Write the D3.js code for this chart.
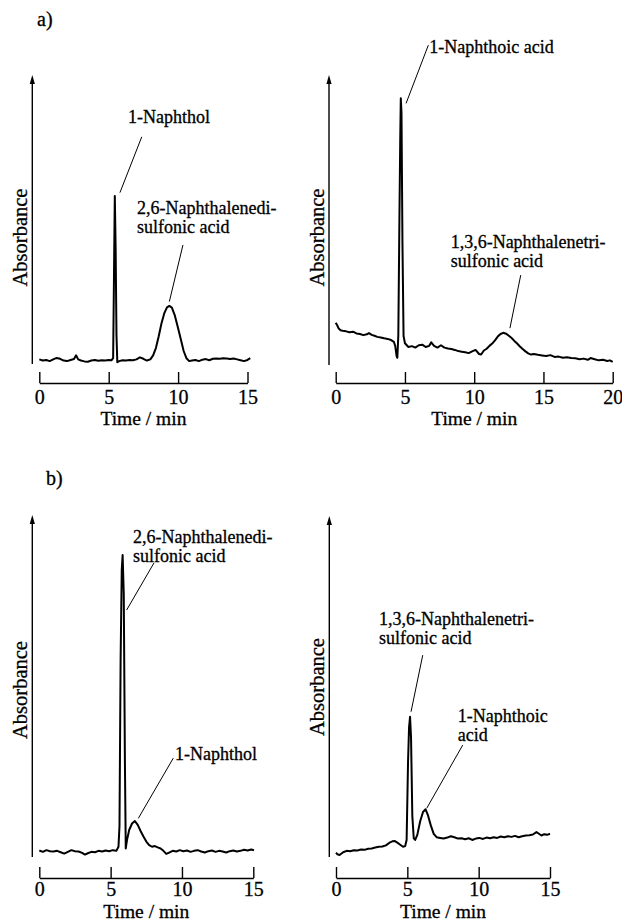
<!DOCTYPE html>
<html>
<head>
<meta charset="utf-8">
<script src="https://cdn.jsdelivr.net/npm/d3@7"></script>
<style>
  body { margin: 0; background: #fff; }
  svg { display: block; font-family: "Liberation Serif", "Times New Roman", serif; }
  text { stroke: #000; stroke-width: 0.3px; fill: #000; }
</style>
</head>
<body>
<div id="chart"></div>
<script>
// Chromatograms, [time (min), absorbance (arb.)].
var traceA1 = [[0,.016],[.25,.012],[.5,.014],[.75,.010],[1,.016],[1.25,.021],[1.5,.018],[1.75,.012],[2,.010],[2.25,.014],[2.5,.017],[2.65,.030],[2.8,.016],[3,.012],[3.25,.009],[3.5,.008],[3.75,.012],[4,.014],[4.25,.011],[4.5,.013],[4.75,.012],[5,.014],[5.2,.013],[5.32,.02],[5.38,.30],[5.44,.581],[5.5,.40],[5.56,.10],[5.62,.006],[5.75,.010],[6,.013],[6.25,.012],[6.5,.014],[6.75,.013],[7,.016],[7.25,.023],[7.5,.018],[7.75,.012],[8,.016],[8.2,.030],[8.4,.055],[8.6,.095],[8.8,.140],[9,.175],[9.2,.196],[9.37,.201],[9.55,.195],[9.75,.170],[10,.124],[10.2,.085],[10.4,.045],[10.6,.020],[10.8,.010],[11,.012],[11.25,.014],[11.5,.010],[11.75,.015],[12,.017],[12.25,.013],[12.5,.018],[12.75,.019],[13,.018],[13.25,.020],[13.5,.019],[13.75,.017],[14,.019],[14.25,.016],[14.5,.013],[14.75,.010],[15,.014],[15.2,.020]];

var traceA2 = [[0,.146],[.1,.138],[.2,.127],[.35,.120],[.5,.118],[.75,.116],[1,.113],[1.25,.115],[1.5,.109],[1.75,.107],[2,.103],[2.25,.106],[2.4,.110],[2.6,.104],[2.8,.101],[3,.097],[3.25,.095],[3.5,.092],[3.75,.090],[4,.086],[4.2,.080],[4.3,.065],[4.4,.030],[4.45,.025],[4.52,.10],[4.6,.50],[4.66,.78],[4.7,.92],[4.75,.87],[4.82,.42],[4.9,.10],[5,.075],[5.25,.062],[5.5,.065],[5.75,.060],[6,.068],[6.25,.070],[6.5,.062],[6.75,.066],[6.9,.078],[7.1,.066],[7.35,.060],[7.6,.068],[7.85,.060],[8.1,.057],[8.35,.055],[8.6,.052],[8.85,.048],[9.1,.046],[9.35,.044],[9.6,.041],[9.85,.047],[10.1,.052],[10.35,.038],[10.5,.036],[10.7,.050],[10.9,.056],[11.1,.066],[11.3,.074],[11.5,.085],[11.7,.098],[11.9,.107],[12.1,.111],[12.3,.108],[12.5,.101],[12.7,.093],[12.9,.083],[13.1,.074],[13.3,.064],[13.5,.055],[13.7,.047],[13.9,.040],[14.1,.036],[14.3,.038],[14.6,.035],[14.9,.033],[15.2,.031],[15.5,.034],[15.8,.028],[16.1,.029],[16.4,.025],[16.7,.027],[17,.024],[17.3,.023],[17.6,.020],[17.9,.022],[18.2,.018],[18.4,.024],[18.7,.020],[19,.016],[19.3,.018],[19.6,.014],[19.8,.016],[20,.011]];

var traceB1 = [[0,.019],[.25,.015],[.5,.020],[.75,.017],[1,.016],[1.25,.018],[1.5,.014],[1.75,.010],[2,.015],[2.25,.020],[2.5,.017],[2.75,.016],[3,.012],[3.2,.007],[3.4,.011],[3.65,.015],[3.9,.014],[4.15,.018],[4.4,.016],[4.65,.019],[4.9,.017],[5.15,.020],[5.4,.018],[5.55,.030],[5.62,.09],[5.7,.58],[5.78,.84],[5.84,.883],[5.92,.77],[6,.28],[6.06,.025],[6.15,.050],[6.3,.079],[6.5,.098],[6.7,.105],[6.9,.094],[7.1,.076],[7.3,.060],[7.5,.045],[7.7,.035],[7.9,.030],[8.1,.032],[8.3,.028],[8.5,.025],[8.7,.018],[8.9,.009],[9.1,.013],[9.35,.018],[9.6,.016],[9.85,.020],[10.1,.017],[10.35,.019],[10.6,.015],[10.85,.018],[11.1,.020],[11.35,.016],[11.6,.013],[11.85,.017],[12.1,.019],[12.35,.015],[12.6,.018],[12.85,.016],[13.1,.013],[13.35,.017],[13.6,.019],[13.85,.016],[14.1,.018],[14.35,.021],[14.6,.019],[14.85,.022],[15.05,.020]];

var traceB2 = [[0,.013],[.1,.008],[.25,.006],[.5,.014],[.75,.018],[1,.017],[1.25,.020],[1.5,.019],[1.75,.022],[2,.021],[2.25,.024],[2.5,.025],[2.75,.028],[3,.030],[3.25,.031],[3.5,.034],[3.75,.042],[3.95,.046],[4.1,.047],[4.3,.042],[4.5,.036],[4.7,.030],[4.85,.032],[4.95,.05],[5.05,.28],[5.12,.38],[5.19,.411],[5.26,.35],[5.35,.12],[5.45,.055],[5.55,.050],[5.7,.065],[5.9,.105],[6.1,.132],[6.28,.140],[6.45,.122],[6.65,.092],[6.85,.068],[7.05,.058],[7.3,.056],[7.55,.054],[7.8,.057],[8.05,.061],[8.3,.058],[8.55,.054],[8.8,.055],[9.05,.052],[9.3,.055],[9.55,.050],[9.8,.054],[10.05,.056],[10.3,.053],[10.55,.057],[10.8,.055],[11.05,.058],[11.3,.056],[11.55,.060],[11.8,.058],[12.05,.061],[12.3,.059],[12.55,.062],[12.8,.058],[13.05,.061],[13.3,.063],[13.55,.064],[13.8,.066],[14.05,.073],[14.2,.069],[14.4,.063],[14.6,.067],[14.8,.065],[15,.068]];

// tick labels
var ticks15 = [0, 5, 10, 15];
var ticks20 = [0, 5, 10, 15, 20];

// peak names
var nameNaphthol = ["1-Naphthol"];
var nameNaphthoic = ["1-Naphthoic acid"];
var nameNaphthoic2 = ["1-Naphthoic", "acid"];
var nameDisulfonic = ["2,6-Naphthalenedi-", "sulfonic acid"];
var nameTrisulfonic = ["1,3,6-Naphthalenetri-", "sulfonic acid"];

var W = 622, H = 922;
var fontSize = 18;

// panel layout (pixels) and label anchors (data units)
var panels = [
  { trace: traceA1, domain: [0, 15], ticks: ticks15, x0: 39.3, x1: 247.5, axisX: 32.3, yTop: 75, yBot: 364, xAxisY: 383, absY: 237.5, tickPad: 7, titleDy: 42,
    labels: [
      { lines: nameNaphthol, at: [6.39, .834], from: [7.38, .786], to: [5.81, .593] },
      { lines: nameDisulfonic, at: [7.04, .519], from: [10.35, .412], to: [9.37, .216] }
    ] },
  { trace: traceA2, domain: [0, 20], ticks: ticks20, x0: 335.7, x1: 612.7, axisX: 329, yTop: 75, yBot: 365, xAxisY: 383, absY: 237.5, tickPad: 7, titleDy: 42,
    labels: [
      { lines: nameNaphthoic, at: [6.76, 1.075], from: [6.69, 1.103], to: [5.08, .902] },
      { lines: nameTrisulfonic, at: [8.30, .403], from: [13.36, .310], to: [12.58, .127] }
    ] },
  { trace: traceB1, domain: [0, 15], ticks: ticks15, x0: 39.3, x1: 253.3, axisX: 32.3, yTop: 515, yBot: 857, xAxisY: 878, absY: 690, tickPad: 4, titleDy: 39.5,
    labels: [
      { lines: nameDisulfonic, at: [6.57, .918], from: [8.04, .860], to: [6.12, .722] },
      { lines: nameNaphthol, at: [9.51, .284], from: [9.39, .289], to: [6.94, .113] }
    ] },
  { trace: traceB2, domain: [0, 15], ticks: ticks15, x0: 336, x1: 550, axisX: 329.3, yTop: 516, yBot: 857, xAxisY: 878, absY: 687, tickPad: 4, titleDy: 39.5,
    labels: [
      { lines: nameTrisulfonic, at: [3.01, .680], from: [6.08, .592], to: [5.26, .426] },
      { lines: nameNaphthoic2, at: [8.53, .397], from: [8.88, .328], to: [6.36, .143] }
    ] }
];

var svg = d3.select("#chart").append("svg")
    .attr("width", W)
    .attr("height", H);

svg.append("rect").attr("width", W).attr("height", H).attr("fill", "#fff");

// panel letters
svg.append("text").attr("x", 37).attr("y", 26).attr("font-size", 20).text("a)");
svg.append("text").attr("x", 46).attr("y", 485).attr("font-size", 20).text("b)");

panels.forEach(function(p) {
  var x = d3.scaleLinear().domain(p.domain).range([p.x0, p.x1]);
  var y = d3.scaleLinear().domain([0, 1]).range([p.yBot, p.yTop]);
  var g = svg.append("g");

  // y axis with arrow
  g.append("line")
      .attr("x1", p.axisX).attr("x2", p.axisX)
      .attr("y1", p.yBot).attr("y2", p.yTop + 6)
      .attr("stroke", "#000").attr("stroke-width", 1.4);
  g.append("path")
      .attr("d", "M" + p.axisX + "," + p.yTop + "l-2.6,9h5.2z")
      .attr("fill", "#000");

  g.append("text")
      .attr("transform", "translate(" + (p.axisX - 5.5) + "," + p.absY + ")rotate(-90)")
      .attr("text-anchor", "middle")
      .attr("font-size", 20.5)
      .text("Absorbance");

  // x axis: ticks point up, labels below
  var ax = g.append("g")
      .attr("transform", "translate(0," + p.xAxisY + ")")
      .call(d3.axisBottom(x).tickValues(p.ticks).tickSize(-11).tickSizeOuter(0).tickPadding(p.tickPad));
  ax.select(".domain").attr("stroke-width", 1.4);
  ax.selectAll(".tick line").attr("stroke-width", 1.4);
  ax.selectAll(".tick text")
      .attr("font-family", "Liberation Serif, serif")
      .attr("font-size", 20)
      .attr("fill", "#000");

  g.append("text")
      .attr("x", (p.x0 + p.x1) / 2)
      .attr("y", p.xAxisY + p.titleDy)
      .attr("text-anchor", "middle")
      .attr("font-size", 19.5)
      .text("Time / min");

  // trace
  var line = d3.line()
      .x(function(d) { return x(d[0]); })
      .y(function(d) { return y(d[1]); });
  g.append("path")
      .datum(p.trace)
      .attr("d", line)
      .attr("fill", "none")
      .attr("stroke", "#000")
      .attr("stroke-width", 2)
      .attr("stroke-linejoin", "round");

  // peak labels + leader lines
  p.labels.forEach(function(l) {
    g.append("line")
        .attr("x1", x(l.from[0])).attr("y1", y(l.from[1]))
        .attr("x2", x(l.to[0])).attr("y2", y(l.to[1]))
        .attr("stroke", "#000").attr("stroke-width", 1);
    var t = g.append("text")
        .attr("x", x(l.at[0]))
        .attr("y", y(l.at[1]))
        .attr("font-size", fontSize);
    t.selectAll("tspan")
        .data(l.lines)
      .enter().append("tspan")
        .attr("x", x(l.at[0]))
        .attr("dy", function(d, i) { return i ? 19 : 0; })
        .text(function(d) { return d; });
  });
});
</script>
</body>
</html>
